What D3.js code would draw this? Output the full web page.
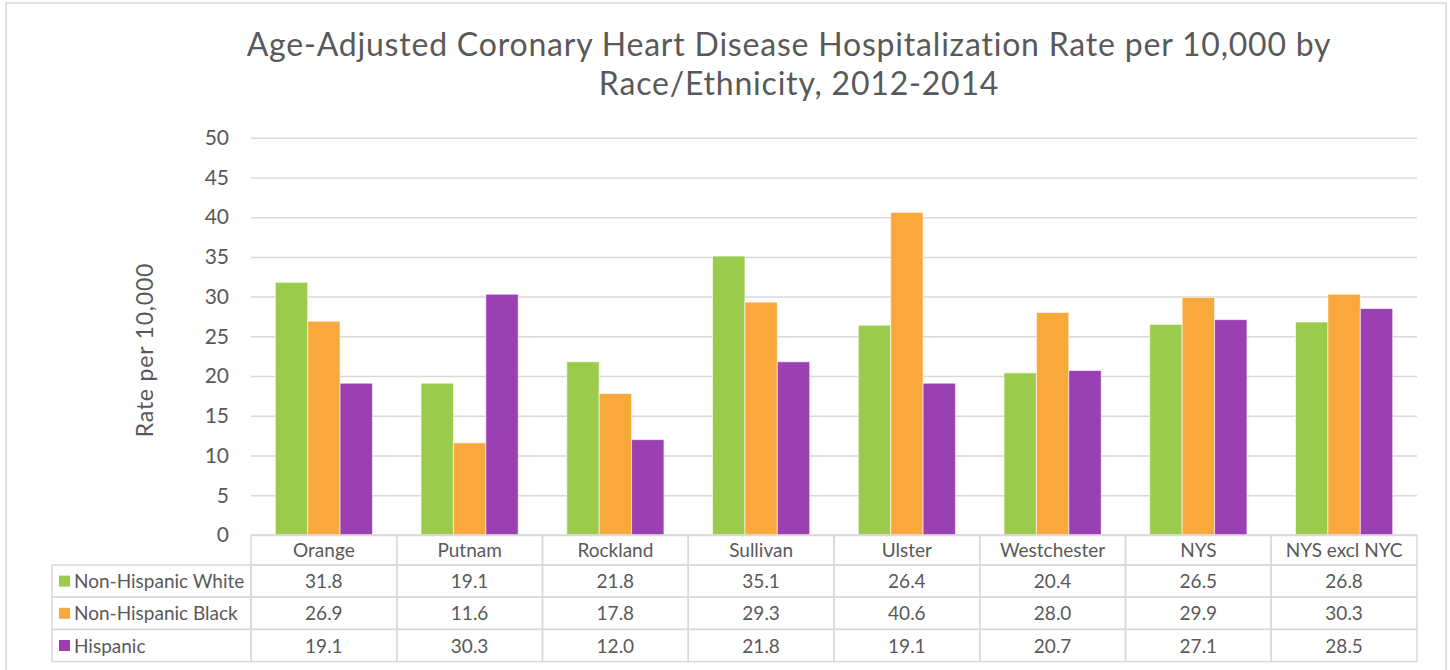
<!DOCTYPE html>
<html>
<head>
<meta charset="utf-8">
<script src="https://cdn.jsdelivr.net/npm/d3@7"></script>
<style>
  html, body { margin: 0; padding: 0; background: #fff; }
  svg { display: block; font-family: "Lato", "Noto Sans", sans-serif; }
</style>
</head>
<body>
<svg id="chart" width="1450" height="670"></svg>
<script>
// County categories and hospitalization rates per 10,000, 2012-2014
const categories = ["Orange", "Putnam", "Rockland", "Sullivan", "Ulster", "Westchester", "NYS", "NYS excl NYC"];
const seriesNames = ["Non-Hispanic White", "Non-Hispanic Black", "Hispanic"];
const whiteRates = [31.8, 19.1, 21.8, 35.1, 26.4, 20.4, 26.5, 26.8];
const blackRates = [26.9, 11.6, 17.8, 29.3, 40.6, 28.0, 29.9, 30.3];
const hispanicRates = [19.1, 30.3, 12.0, 21.8, 19.1, 20.7, 27.1, 28.5];
const yTicks = [0, 5, 10, 15, 20, 25, 30, 35, 40, 45, 50];
const seriesColors = ["#9bcb4c", "#f9a83c", "#9a40b2"];

const seriesValues = [whiteRates, blackRates, hispanicRates];
const textColor = "#595959";
const lineColor = "#d9d9d9";

const svg = d3.select("#chart");

// Outer chart frame
svg.append("rect")
  .attr("x", 6).attr("y", 3)
  .attr("width", 1440).attr("height", 700)
  .attr("fill", "#fff").attr("stroke", lineColor).attr("stroke-width", 1.5);

// Title
const title = svg.append("text")
  .attr("text-anchor", "middle")
  .attr("fill", textColor)
  .style("font-size", "32px")
  .style("letter-spacing", "0.8px");
title.append("tspan").attr("x", 789).attr("y", 56)
  .text("Age-Adjusted Coronary Heart Disease Hospitalization Rate per 10,000 by");
title.append("tspan").attr("x", 799).attr("y", 95)
  .text("Race/Ethnicity, 2012-2014");

// Scales
const x = d3.scaleBand().domain(categories).range([251, 1417]).paddingInner(0).paddingOuter(0);
const xs = d3.scaleBand().domain(seriesNames).range([0, x.bandwidth()]).paddingInner(0).paddingOuter(0.75);
const y = d3.scaleLinear().domain([0, 50]).range([535, 137.7]);

// Gridlines and y tick labels via d3 axis
const yAxis = d3.axisLeft(y).tickValues(yTicks).tickSize(-(1417 - 251)).tickPadding(22).tickFormat(d3.format("d"));
const gy = svg.append("g").attr("transform", "translate(251,0)").call(yAxis);
gy.select(".domain").remove();
gy.selectAll(".tick line").attr("stroke", lineColor).attr("stroke-width", 1.5);
gy.selectAll(".tick text").attr("fill", textColor).style("font-size", "21px").style("font-family", "Lato, sans-serif");

// Y axis title
svg.append("text")
  .attr("transform", "translate(153,350) rotate(-90)")
  .attr("text-anchor", "middle")
  .attr("fill", textColor)
  .style("font-size", "23px")
  .style("letter-spacing", "0.8px")
  .text("Rate per 10,000");

// Bars
const groups = svg.append("g").selectAll("g")
  .data(categories)
  .join("g")
  .attr("transform", d => `translate(${x(d)},0)`);

groups.selectAll("rect")
  .data((d, i) => seriesNames.map((s, j) => ({ series: s, value: seriesValues[j][i], color: seriesColors[j] })))
  .join("rect")
  .attr("x", d => xs(d.series))
  .attr("width", xs.bandwidth())
  .attr("y", d => y(d.value))
  .attr("height", d => y(0) - y(d.value))
  .attr("fill", d => d.color)
  .attr("stroke", "rgba(255,255,255,0.6)")
  .attr("stroke-width", 1);

// Data table beneath the plot
const tableTop = 535;
const headerH = 30;
const rowH = 32.2;
const legendLeft = 52;
const table = svg.append("g");

// Header row with category names
categories.forEach(c => {
  table.append("rect")
    .attr("x", x(c)).attr("y", tableTop)
    .attr("width", x.bandwidth()).attr("height", headerH)
    .attr("fill", "none").attr("stroke", lineColor).attr("stroke-width", 1.5);
  table.append("text")
    .attr("x", x(c) + x.bandwidth() / 2).attr("y", tableTop + headerH / 2 + 7)
    .attr("text-anchor", "middle").attr("fill", textColor)
    .style("font-size", "19px")
    .text(c);
});

// Series rows
seriesNames.forEach((s, j) => {
  const ry = tableTop + headerH + j * rowH;
  table.append("rect")
    .attr("x", legendLeft).attr("y", ry)
    .attr("width", x(categories[0]) - legendLeft).attr("height", rowH)
    .attr("fill", "none").attr("stroke", lineColor).attr("stroke-width", 1.5);
  table.append("rect")
    .attr("x", 59).attr("y", ry + rowH / 2 - 5.5)
    .attr("width", 11).attr("height", 11)
    .attr("fill", seriesColors[j]);
  table.append("text")
    .attr("x", 74).attr("y", ry + rowH / 2 + 7)
    .attr("fill", textColor).style("font-size", "19px")
    .text(s);
  categories.forEach((c, i) => {
    table.append("rect")
      .attr("x", x(c)).attr("y", ry)
      .attr("width", x.bandwidth()).attr("height", rowH)
      .attr("fill", "none").attr("stroke", lineColor).attr("stroke-width", 1.5);
    table.append("text")
      .attr("x", x(c) + x.bandwidth() / 2).attr("y", ry + rowH / 2 + 7)
      .attr("text-anchor", "middle").attr("fill", textColor)
      .style("font-size", "19px")
      .text(d3.format(".1f")(seriesValues[j][i]));
  });
});
</script>
</body>
</html>
